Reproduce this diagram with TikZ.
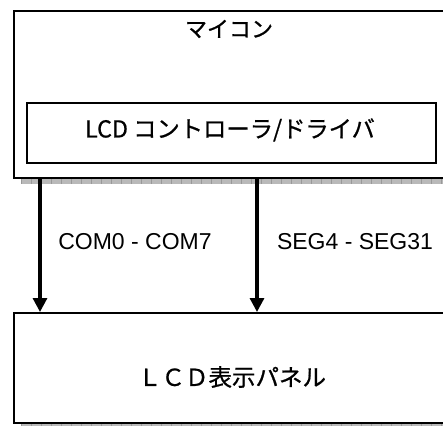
\documentclass[tikz,border=0pt]{standalone}
\usepackage{fontspec}
\setmainfont{Liberation Sans}
\newfontfamily\jp[FakeBold=0.8]{Noto Sans CJK JP}
\usetikzlibrary{arrows.meta}
\tikzset{
  box/.style={draw=black, line width=2pt, fill=white, inner sep=0pt},
  shadowstrip/.style={fill=gray!55, draw=none},
  arr/.style={line width=3.2pt, -{Triangle[length=14pt,width=14pt]}},
  lbl/.style={inner sep=0pt, font=\fontsize{23}{26}\selectfont},
  jlbl/.style={inner sep=0pt, font=\fontsize{22}{26}\selectfont\jp}
}
\begin{document}
\begin{tikzpicture}[x=1pt,y=-1pt]
\useasboundingbox (0,0) rectangle (443,425);
\clip (0,0) rectangle (443,425);
% shadows
\fill[shadowstrip] (21,178) rectangle (450,184);
\foreach \i in {0,...,43} {\draw[gray!80, line width=0.6pt] (21+10*\i,178) -- (21+10*\i,184);}
\fill[shadowstrip] (21,423) rectangle (450,426);
\foreach \i in {0,...,43} {\draw[gray!80, line width=0.6pt] (21+10*\i,423) -- (21+10*\i,426);}
% boxes
\node[box, anchor=north west, minimum width=437pt, minimum height=167pt] (mcu) at (13,10) {};
\node[box, anchor=north west, minimum width=409pt, minimum height=60pt] (ctrl) at (26,102) {};
\node[box, anchor=north west, minimum width=437pt, minimum height=110pt] (panel) at (13,312) {};
% labels
\node[jlbl] (t1) at (229,29) {マイコン};
\node[jlbl, font=\fontsize{23.3}{26}\selectfont\jp] (t2) at (230,130) {LCD コントローラ/ドライバ};
\node[jlbl, font=\fontsize{23.5}{26}\selectfont\jp] (t3) at (232,377) {ＬＣＤ表示パネル};
\node[lbl] (c1) at (135,242) {COM0 - COM7};
\node[lbl] (c2) at (355,242) {SEG4 - SEG31};
% arrows
\coordinate (a1) at (40,177);
\coordinate (a2) at (257,177);
\draw[arr] (a1) -- (a1 |- panel.north);
\draw[arr] (a2) -- (a2 |- panel.north);
\end{tikzpicture}
\end{document}
